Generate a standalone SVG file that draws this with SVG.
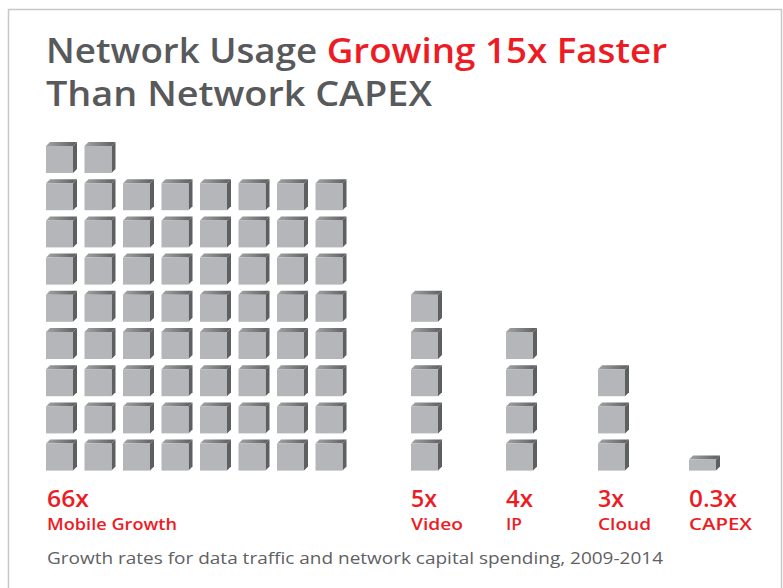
<svg xmlns="http://www.w3.org/2000/svg" xmlns:xlink="http://www.w3.org/1999/xlink" width="783" height="588" viewBox="0 0 783 588">
  <style>
    .title { font-family: "Open Sans", "Liberation Sans", sans-serif; font-weight: 600; font-size: 35px; fill: #58595b; }
    .red { fill: #ed1c24; }
    .val { font-family: "Open Sans", "Liberation Sans", sans-serif; font-weight: 600; font-size: 23px; fill: #ed1c24; }
    .lbl { font-family: "Open Sans", "Liberation Sans", sans-serif; font-weight: 600; font-size: 16.5px; fill: #ed1c24; }
    .note { font-family: "Open Sans", "Liberation Sans", sans-serif; font-size: 15.5px; fill: #606163; }
  </style>
  <defs>
    <linearGradient id="topShade" x1="0" y1="0" x2="1" y2="0">
      <stop offset="0" stop-color="#a3a4a6"/>
      <stop offset="1" stop-color="#5c5d5f"/>
    </linearGradient>
    <!-- one cube: front face 27x27 with a shallow top and right face -->
    <g id="cube">
      <polygon points="0,0 4,-4 31,-4 27,0" fill="url(#topShade)"/>
      <polygon points="27,0 31,-4 31,23 27,27" fill="#5e5f61"/>
      <rect x="0" y="0" width="27" height="27" fill="#b5b6b9"/>
    </g>
    <!-- flat slab for the smallest value -->
    <g id="slab">
      <polygon points="0,0 4,-4 31,-4 27,0" fill="url(#topShade)"/>
      <polygon points="27,0 31,-4 31,7 27,11" fill="#5e5f61"/>
      <rect x="0" y="0" width="27" height="11" fill="#b5b6b9"/>
    </g>
  </defs>

  <rect x="0" y="0" width="783" height="588" fill="#ffffff"/>
  <!-- frame -->
  <path d="M8.5,600 V9.5 H781.5 V600" fill="none" stroke="#c8c8c8" stroke-width="1.5"/>

  <g id="title">
    <text class="title" x="46" y="63" textLength="621" lengthAdjust="spacingAndGlyphs">Network Usage <tspan class="red">Growing 15x Faster</tspan></text>
    <text class="title" x="46" y="106" textLength="386" lengthAdjust="spacingAndGlyphs">Than Network CAPEX</text>
  </g>

  <!-- 66x mobile: 8x8 block plus two on top -->
  <g id="mobile">
    <use xlink:href="#cube" x="46" y="146"/><use xlink:href="#cube" x="84.5" y="146"/>
    <g id="mobile-rows">
      <g transform="translate(0,183.2)">
        <use xlink:href="#cube" x="46"/><use xlink:href="#cube" x="84.5"/><use xlink:href="#cube" x="123"/><use xlink:href="#cube" x="161.5"/><use xlink:href="#cube" x="200"/><use xlink:href="#cube" x="238.5"/><use xlink:href="#cube" x="277"/><use xlink:href="#cube" x="315.5"/>
      </g>
      <g transform="translate(0,220.4)">
        <use xlink:href="#cube" x="46"/><use xlink:href="#cube" x="84.5"/><use xlink:href="#cube" x="123"/><use xlink:href="#cube" x="161.5"/><use xlink:href="#cube" x="200"/><use xlink:href="#cube" x="238.5"/><use xlink:href="#cube" x="277"/><use xlink:href="#cube" x="315.5"/>
      </g>
      <g transform="translate(0,257.6)">
        <use xlink:href="#cube" x="46"/><use xlink:href="#cube" x="84.5"/><use xlink:href="#cube" x="123"/><use xlink:href="#cube" x="161.5"/><use xlink:href="#cube" x="200"/><use xlink:href="#cube" x="238.5"/><use xlink:href="#cube" x="277"/><use xlink:href="#cube" x="315.5"/>
      </g>
      <g transform="translate(0,294.8)">
        <use xlink:href="#cube" x="46"/><use xlink:href="#cube" x="84.5"/><use xlink:href="#cube" x="123"/><use xlink:href="#cube" x="161.5"/><use xlink:href="#cube" x="200"/><use xlink:href="#cube" x="238.5"/><use xlink:href="#cube" x="277"/><use xlink:href="#cube" x="315.5"/>
      </g>
      <g transform="translate(0,332)">
        <use xlink:href="#cube" x="46"/><use xlink:href="#cube" x="84.5"/><use xlink:href="#cube" x="123"/><use xlink:href="#cube" x="161.5"/><use xlink:href="#cube" x="200"/><use xlink:href="#cube" x="238.5"/><use xlink:href="#cube" x="277"/><use xlink:href="#cube" x="315.5"/>
      </g>
      <g transform="translate(0,369.2)">
        <use xlink:href="#cube" x="46"/><use xlink:href="#cube" x="84.5"/><use xlink:href="#cube" x="123"/><use xlink:href="#cube" x="161.5"/><use xlink:href="#cube" x="200"/><use xlink:href="#cube" x="238.5"/><use xlink:href="#cube" x="277"/><use xlink:href="#cube" x="315.5"/>
      </g>
      <g transform="translate(0,406.4)">
        <use xlink:href="#cube" x="46"/><use xlink:href="#cube" x="84.5"/><use xlink:href="#cube" x="123"/><use xlink:href="#cube" x="161.5"/><use xlink:href="#cube" x="200"/><use xlink:href="#cube" x="238.5"/><use xlink:href="#cube" x="277"/><use xlink:href="#cube" x="315.5"/>
      </g>
      <g transform="translate(0,443.6)">
        <use xlink:href="#cube" x="46"/><use xlink:href="#cube" x="84.5"/><use xlink:href="#cube" x="123"/><use xlink:href="#cube" x="161.5"/><use xlink:href="#cube" x="200"/><use xlink:href="#cube" x="238.5"/><use xlink:href="#cube" x="277"/><use xlink:href="#cube" x="315.5"/>
      </g>
    </g>
    <text class="val" x="47" y="507" textLength="42" lengthAdjust="spacingAndGlyphs">66x</text>
    <text class="lbl" x="47" y="530" textLength="130" lengthAdjust="spacingAndGlyphs">Mobile Growth</text>
  </g>

  <g id="video">
    <use xlink:href="#cube" x="411" y="294.8"/>
    <use xlink:href="#cube" x="411" y="332"/>
    <use xlink:href="#cube" x="411" y="369.2"/>
    <use xlink:href="#cube" x="411" y="406.4"/>
    <use xlink:href="#cube" x="411" y="443.6"/>
    <text class="val" x="411" y="507" textLength="26" lengthAdjust="spacingAndGlyphs">5x</text>
    <text class="lbl" x="411" y="530" textLength="52" lengthAdjust="spacingAndGlyphs">Video</text>
  </g>

  <g id="ip">
    <use xlink:href="#cube" x="506" y="332"/>
    <use xlink:href="#cube" x="506" y="369.2"/>
    <use xlink:href="#cube" x="506" y="406.4"/>
    <use xlink:href="#cube" x="506" y="443.6"/>
    <text class="val" x="506" y="507" textLength="27" lengthAdjust="spacingAndGlyphs">4x</text>
    <text class="lbl" x="506" y="530" textLength="16" lengthAdjust="spacingAndGlyphs">IP</text>
  </g>

  <g id="cloud">
    <use xlink:href="#cube" x="598" y="369.2"/>
    <use xlink:href="#cube" x="598" y="406.4"/>
    <use xlink:href="#cube" x="598" y="443.6"/>
    <text class="val" x="598" y="507" textLength="26" lengthAdjust="spacingAndGlyphs">3x</text>
    <text class="lbl" x="598" y="530" textLength="53" lengthAdjust="spacingAndGlyphs">Cloud</text>
  </g>

  <g id="capex">
    <use xlink:href="#slab" x="689" y="459.6"/>
    <text class="val" x="689" y="507" textLength="48" lengthAdjust="spacingAndGlyphs">0.3x</text>
    <text class="lbl" x="689" y="530" textLength="63" lengthAdjust="spacingAndGlyphs">CAPEX</text>
  </g>

  <text class="note" x="47" y="564" textLength="616" lengthAdjust="spacingAndGlyphs">Growth rates for data traffic and network capital spending, 2009-2014</text>
</svg>
